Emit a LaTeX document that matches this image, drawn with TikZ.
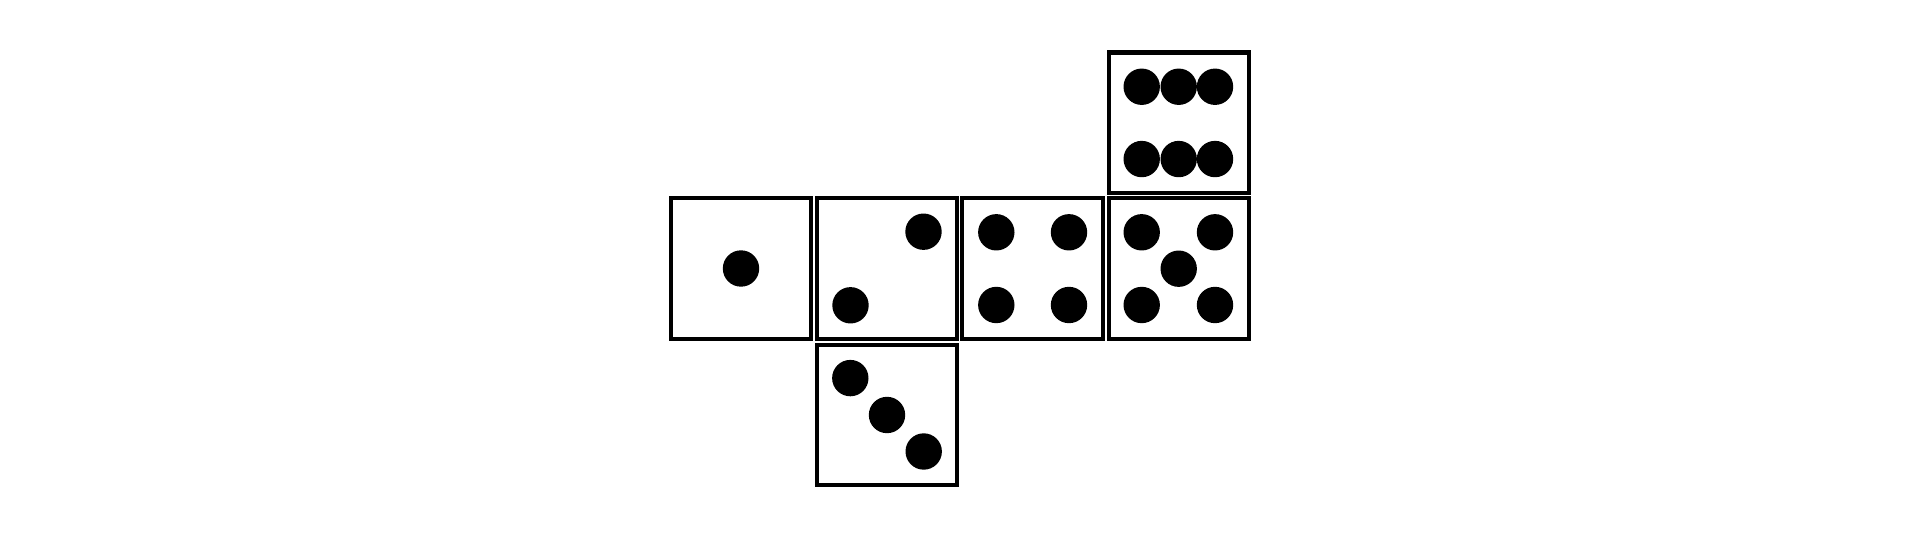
\documentclass[tikz,border=0pt]{standalone}
\usetikzlibrary{calc}
\begin{document}
\begin{tikzpicture}[x=0.02cm,y=-0.02cm,
  face/.style={draw=black,line width=0.086cm,minimum size=2.81cm,inner sep=0pt,outer sep=0pt,rectangle},
  pip/.style={fill=black}]
\useasboundingbox (0,0) rectangle (1920,540);
% faces
\node[face] (one)   at (741,268.5) {};
\node[face] (two)   at (887,268.5) {};
\node[face] (four)  at (1032.5,268.5) {};
\node[face] (five)  at (1179,268.5) {};
\node[face] (six)   at (1179,122.75) {};
\node[face] (three) at (887,415) {};
\def\r{0.364cm}
% one
\fill[pip] (one.center) circle[radius=\r];
% two
\fill[pip] ($(two.center)+(36.5,-36.8)$) circle[radius=\r];
\fill[pip] ($(two.center)+(-36.5,36.8)$) circle[radius=\r];
% three
\fill[pip] ($(three.center)+(-36.7,-36.9)$) circle[radius=\r];
\fill[pip] (three.center) circle[radius=\r];
\fill[pip] ($(three.center)+(36.7,36.5)$) circle[radius=\r];
% four
\foreach \dx in {-36.2,36.5}{\foreach \dy in {-36.2,36.5}{
  \fill[pip] ($(four.center)+(\dx,\dy)$) circle[radius=\r];}}
% five
\foreach \dx in {-37.3,36}{\foreach \dy in {-36.2,36.5}{
  \fill[pip] ($(five.center)+(\dx,\dy)$) circle[radius=\r];}}
\fill[pip] ($(five.center)+(-0.3,0.2)$) circle[radius=\r];
% six
\foreach \dx in {-37.3,-0.3,36}{\foreach \dy in {-36,36.3}{
  \fill[pip] ($(six.center)+(\dx,\dy)$) circle[radius=\r];}}
\end{tikzpicture}
\end{document}
